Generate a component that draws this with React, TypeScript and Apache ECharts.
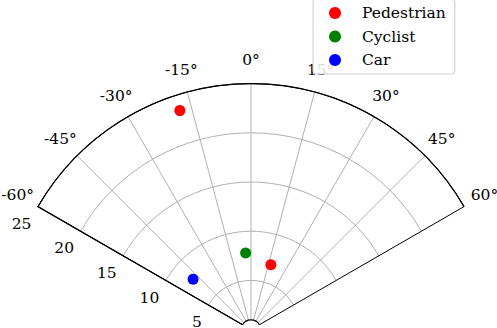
import React, { useEffect, useRef } from "react";
import * as echarts from "echarts";

const seriesNames = ["Pedestrian", "Cyclist", "Car"];
const seriesColors = ["#ff0000", "#008000", "#0000ff"];
// [radius, angle in degrees (0 = up, positive = clockwise)]
const pedestrian = [
  [23.4, -18],
  [6.9, 17],
];
const cyclist = [[7.8, -4]];
const car = [[7.8, -49]];
const angleTicks = [-60, -45, -30, -15, 0, 15, 30, 45, 60];
const radiusTicks = [5, 10, 15, 20, 25];

const FONT = "'DejaVu Serif', 'Liberation Serif', serif";
const FS = 15.5;
const CX = 251;
const CY = 329.6;
const R = 246;
const HOLE = 9.8;

// per-label padding [top, right, bottom, left] to place angle labels like the reference
const anglePad: Record<string, number[]> = {
  m60: [0, 11.7, 8.25, 0],
  m45: [0, 6.6, 14.85, 0],
  m30: [0, 0, 19.95, 0],
  m15: [0, 16.6, 23.15, 0],
  p0: [0, 0, 24.25, 0],
  p15: [0, 0, 23.15, 16.6],
  p30: [0, 0, 19.95, 2.75],
  p45: [0, 0, 14.85, 9.35],
  p60: [0, 0, 8.25, 14.45],
};
const keyOf = (v: number) => (v < 0 ? "m" + -v : "p" + v);

export default function App() {
  const ref = useRef<HTMLDivElement>(null);
  useEffect(() => {
    if (!ref.current) return;
    const chart = echarts.init(ref.current, null, { renderer: "svg" });
    const rich: any = {};
    angleTicks.forEach((v) => {
      rich[keyOf(v)] = {
        padding: anglePad[keyOf(v)],
        fontFamily: FONT,
        fontSize: FS,
        color: "#000",
      };
    });
    const gray = "#b0b0b0";
    const allData = [pedestrian, cyclist, car];
    chart.setOption({
      animation: false,
      textStyle: { fontFamily: FONT },
      polar: { center: [CX, CY], radius: [0, R] },
      angleAxis: {
        type: "value",
        min: -60,
        max: 60,
        interval: 15,
        startAngle: 150,
        endAngle: 30,
        clockwise: true,
        axisLine: { show: true, lineStyle: { color: "#000", width: 1.25 } },
        axisTick: { show: false },
        splitLine: {
          show: true,
          lineStyle: {
            color: angleTicks.map((v, i) =>
              i === 0 || i === angleTicks.length - 1 ? "#000" : gray
            ),
            width: 1,
          },
        },
        axisLabel: {
          show: true,
          margin: -9,
          formatter: (v: number) => `{${keyOf(v)}|${v}°}`,
          rich,
          fontFamily: FONT,
          fontSize: FS,
          color: "#000",
        },
      },
      radiusAxis: {
        type: "value",
        min: 0,
        max: 25,
        interval: 5,
        axisLine: { show: true, lineStyle: { color: "#000", width: 1.25 } },
        axisTick: { show: false },
        splitLine: {
          show: true,
          lineStyle: {
            color: [0, ...radiusTicks].map((v) => (v === 25 ? "#000" : gray)),
            width: 1,
          },
        },
        axisLabel: {
          show: true,
          margin: 13,
          formatter: (v: number) =>
            radiusTicks.indexOf(v) >= 0 ? `{n|${v}}` : "",
          rich: {
            n: {
              padding: [12, 0, 0, 0],
              fontFamily: FONT,
              fontSize: FS,
              color: "#000",
            },
          },
          fontFamily: FONT,
          fontSize: FS,
          color: "#000",
        },
      },
      legend: {
        orient: "vertical",
        left: 313,
        top: -1,
        data: seriesNames,
        icon: "circle",
        itemWidth: 44,
        itemHeight: 12,
        itemGap: 7.5,
        padding: [6, 9, 6, 16],
        backgroundColor: "rgba(255,255,255,0.85)",
        borderColor: "#cccccc",
        borderWidth: 1,
        borderRadius: 3,
        textStyle: {
          fontFamily: FONT,
          fontSize: FS,
          color: "#000",
          lineHeight: 16,
        },
      },
      graphic: [
        {
          type: "circle",
          z: 100,
          shape: { cx: CX, cy: CY, r: HOLE },
          style: { fill: "#fff" },
        },
        {
          type: "arc",
          z: 101,
          shape: {
            cx: CX,
            cy: CY,
            r: HOLE,
            startAngle: (-5 * Math.PI) / 6,
            endAngle: -Math.PI / 6,
            clockwise: true,
          },
          style: { stroke: "#000", lineWidth: 1.25, fill: "none" },
        },
      ],
      series: seriesNames.map((name, i) => ({
        name,
        type: "scatter",
        coordinateSystem: "polar",
        symbol: "circle",
        symbolSize: 11,
        itemStyle: { color: seriesColors[i], opacity: 1 },
        data: allData[i],
        z: 5,
      })),
    });
    return () => chart.dispose();
  }, []);
  return (
    <div
      ref={ref}
      style={{ position: "absolute", left: 0, top: 0, width: 497, height: 328 }}
    />
  );
}
